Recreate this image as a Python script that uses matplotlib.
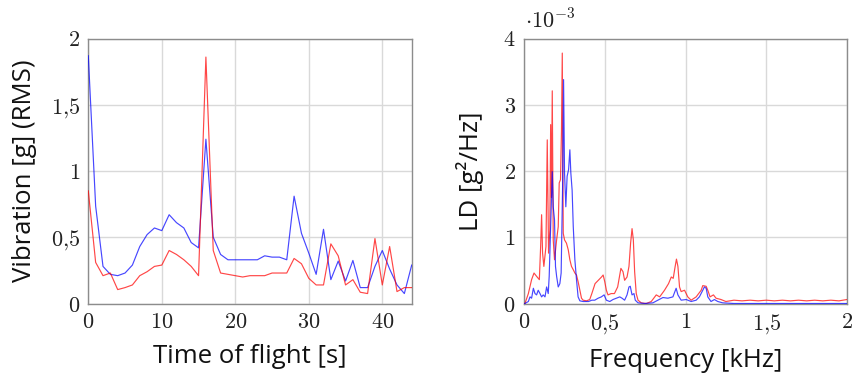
import numpy as np
import matplotlib
matplotlib.use("Agg")
import matplotlib.pyplot as plt
from matplotlib.ticker import FixedLocator, FuncFormatter

plt.rcParams["mathtext.fontset"] = "cm"

# --- Vibration RMS over the flight (g) ---
time_s = np.arange(0, 45)
vib_blue = [1.87, 0.735, 0.28, 0.22, 0.21, 0.23, 0.29, 0.43, 0.52, 0.57,
            0.55, 0.67, 0.61, 0.57, 0.46, 0.42, 1.24, 0.50, 0.37, 0.33,
            0.33, 0.33, 0.33, 0.33, 0.36, 0.35, 0.35, 0.33, 0.81, 0.53,
            0.38, 0.22, 0.56, 0.18, 0.32, 0.17, 0.325, 0.12, 0.12, 0.28,
            0.40, 0.26, 0.14, 0.075, 0.29]
vib_red = [0.85, 0.31, 0.21, 0.23, 0.105, 0.12, 0.14, 0.21, 0.24, 0.28,
           0.29, 0.40, 0.37, 0.33, 0.28, 0.21, 1.86, 0.40, 0.23, 0.22,
           0.21, 0.20, 0.21, 0.21, 0.21, 0.23, 0.23, 0.23, 0.34, 0.30,
           0.19, 0.14, 0.14, 0.45, 0.36, 0.14, 0.18, 0.085, 0.075, 0.49,
           0.14, 0.43, 0.09, 0.12, 0.12]

# --- Spectral density (x 1e-3 g^2/Hz) vs frequency (kHz) ---
freq_red = [0.0, 0.006, 0.027, 0.047, 0.062, 0.078, 0.095, 0.103, 0.109, 0.115,
            0.123, 0.136, 0.144, 0.152, 0.160, 0.165, 0.170, 0.175, 0.181, 0.189,
            0.202, 0.212, 0.218, 0.226, 0.232, 0.237, 0.243, 0.251, 0.263, 0.274,
            0.284, 0.294, 0.305, 0.315, 0.325, 0.335, 0.346, 0.356, 0.366, 0.387,
            0.407, 0.42, 0.44, 0.46, 0.48, 0.49, 0.50, 0.51, 0.52, 0.54,
            0.56, 0.58, 0.60, 0.613, 0.623, 0.638, 0.65, 0.66, 0.669, 0.677,
            0.685, 0.695, 0.706, 0.726, 0.757, 0.788, 0.819, 0.84, 0.87, 0.895,
            0.912, 0.924, 0.936, 0.944, 0.953, 0.963, 0.973, 0.994, 1.014, 1.035,
            1.066, 1.097, 1.107, 1.128, 1.138, 1.152, 1.173, 1.189, 1.22, 1.25,
            1.30, 1.35, 1.40, 1.45, 1.50, 1.55, 1.60, 1.65, 1.70, 1.75,
            1.80, 1.85, 1.90, 1.95, 2.0]
psd_red = [0.0, 0.0, 0.15, 0.36, 0.46, 0.41, 0.36, 0.86, 1.34, 0.76,
           0.56, 0.86, 2.47, 0.76, 1.11, 2.70, 1.60, 3.21, 0.96, 0.66,
           0.96, 1.16, 1.82, 1.87, 2.60, 3.78, 1.06, 0.96, 0.91, 0.81,
           0.66, 0.56, 0.51, 0.46, 0.43, 0.33, 0.20, 0.08, 0.05, 0.04,
           0.06, 0.15, 0.30, 0.35, 0.40, 0.43, 0.33, 0.20, 0.13, 0.15,
           0.15, 0.25, 0.53, 0.48, 0.35, 0.40, 0.56, 0.91, 1.13, 0.96,
           0.48, 0.15, 0.05, 0.01, 0.0, 0.03, 0.13, 0.10, 0.20, 0.30,
           0.40, 0.38, 0.56, 0.67, 0.56, 0.25, 0.18, 0.20, 0.10, 0.05,
           0.10, 0.20, 0.27, 0.26, 0.20, 0.10, 0.13, 0.08, 0.06, 0.03,
           0.05, 0.04, 0.05, 0.04, 0.05, 0.04, 0.05, 0.04, 0.05, 0.04,
           0.05, 0.04, 0.05, 0.04, 0.06]

freq_blue = [0.0, 0.006, 0.027, 0.037, 0.047, 0.058, 0.068, 0.078, 0.088, 0.099,
             0.109, 0.119, 0.130, 0.140, 0.150, 0.156, 0.165, 0.175, 0.181, 0.189,
             0.195, 0.202, 0.212, 0.222, 0.230, 0.239, 0.245, 0.251, 0.259, 0.267,
             0.276, 0.284, 0.290, 0.298, 0.305, 0.315, 0.325, 0.335, 0.346, 0.366,
             0.40, 0.42, 0.438, 0.459, 0.479, 0.496, 0.51, 0.531, 0.551, 0.572,
             0.593, 0.607, 0.623, 0.638, 0.65, 0.658, 0.669, 0.681, 0.689, 0.706,
             0.747, 0.798, 0.829, 0.86, 0.891, 0.922, 0.942, 0.953, 0.973, 1.004,
             1.035, 1.066, 1.086, 1.107, 1.117, 1.128, 1.138, 1.158, 1.179, 1.20,
             1.23, 1.30, 2.0]
psd_blue = [0.0, 0.0, 0.03, 0.10, 0.08, 0.23, 0.15, 0.13, 0.20, 0.15,
            0.10, 0.13, 0.10, 0.25, 0.15, 0.41, 1.16, 1.99, 1.46, 1.26,
            0.56, 0.41, 0.25, 0.30, 0.46, 1.76, 3.38, 1.97, 1.46, 1.92,
            2.02, 2.32, 1.97, 1.71, 1.16, 0.66, 0.36, 0.10, 0.04, 0.03,
            0.03, 0.05, 0.05, 0.08, 0.10, 0.13, 0.05, 0.03, 0.06, 0.08,
            0.10, 0.08, 0.05, 0.13, 0.25, 0.26, 0.13, 0.15, 0.05, 0.01,
            0.0, 0.01, 0.05, 0.09, 0.08, 0.10, 0.23, 0.13, 0.05, 0.06,
            0.03, 0.05, 0.10, 0.20, 0.25, 0.23, 0.10, 0.03, 0.06, 0.03,
            0.01, 0.0, 0.0]

left_xticks = [0, 10, 20, 30, 40]
left_yticks = [0, 0.5, 1, 1.5, 2]
right_xticks = [0, 0.5, 1, 1.5, 2]
right_yticks = [0, 1, 2, 3, 4]


def comma_fmt(v, pos=None):
    s = f"{v:g}".replace(".", "{,}")
    return f"${s}$"


W, H = 852, 376
fig = plt.figure(figsize=(W / 100, H / 100), dpi=100)

ax1 = fig.add_axes([88.3 / W, 1 - 303.5 / H, 323.4 / W, 265 / H])
ax2 = fig.add_axes([524 / W, 1 - 303.5 / H, 323 / W, 265 / H])

line_kw = dict(lw=0.85, alpha=0.72, solid_joinstyle="round")

ax1.plot(time_s, vib_blue, color="#0000ff", **line_kw, zorder=3)
ax1.plot(time_s, vib_red, color="#ff0000", **line_kw, zorder=3)
ax1.set_xlim(0, 44)
ax1.set_ylim(0, 2)
ax1.xaxis.set_major_locator(FixedLocator(left_xticks))
ax1.yaxis.set_major_locator(FixedLocator(left_yticks))

ax2.plot(freq_red, psd_red, color="#ff0000", **line_kw, zorder=3)
ax2.plot(freq_blue, psd_blue, color="#0000ff", **line_kw, zorder=3)
ax2.set_xlim(0, 2)
ax2.set_ylim(0, 4)
ax2.xaxis.set_major_locator(FixedLocator(right_xticks))
ax2.yaxis.set_major_locator(FixedLocator(right_yticks))

label_font = dict(family="Open Sans", size=18.5, color="#111111")

for ax in (ax1, ax2):
    ax.xaxis.set_major_formatter(FuncFormatter(comma_fmt))
    ax.yaxis.set_major_formatter(FuncFormatter(comma_fmt))
    ax.grid(True, color="#d9d9d9", lw=1.0, zorder=0)
    ax.set_axisbelow(True)
    for sp in ax.spines.values():
        sp.set_color("#8c8c8c")
        sp.set_linewidth(1.0)
    ax.tick_params(direction="in", length=0, labelsize=16,
                   labelcolor="#222222", pad=6)

ax1.set_xlabel("Time of flight [s]", labelpad=9, **label_font)
ax1.set_ylabel("Vibration [g] (RMS)", labelpad=10, **label_font)
ax2.set_xlabel("Frequency [kHz]", labelpad=9, **label_font)
ax2.set_ylabel("LD [g²/Hz]", labelpad=14, **label_font)

fig.text(525 / W, 1 - 20 / H, r"${\cdot}10^{-3}$", fontsize=16,
         color="#222222", va="center", ha="left")

fig.savefig("out.png", dpi=100)
